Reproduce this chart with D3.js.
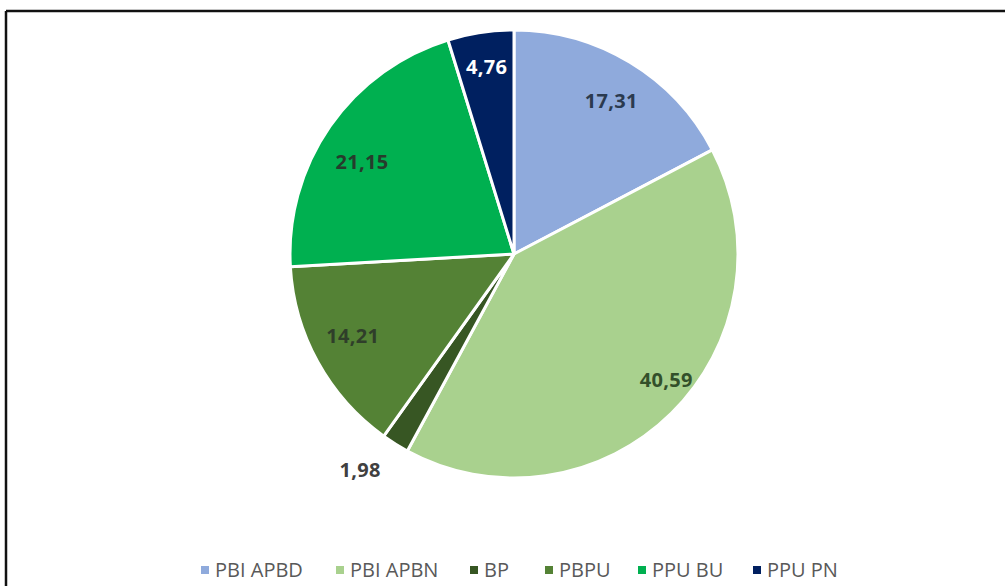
<!DOCTYPE html>
<html>
<head>
<meta charset="utf-8">
<script src="https://cdnjs.cloudflare.com/ajax/libs/d3/7.8.5/d3.min.js"></script>
<style>
  html, body { margin: 0; padding: 0; background: #fff; }
  svg { display: block; }
</style>
</head>
<body>
<div id="chart"></div>
<script>
// chart data
var categories = ['PBI APBD', 'PBI APBN', 'BP', 'PBPU', 'PPU BU', 'PPU PN'];
var values     = [17.31, 40.59, 1.98, 14.21, 21.15, 4.76];
var labels     = ['17,31', '40,59', '1,98', '14,21', '21,15', '4,76'];
var colors     = ['#8faadc', '#a9d18e', '#375623', '#548235', '#00b050', '#002060'];
var labelColors = ['#2b3a4f', '#33502a', '#404040', '#2f3e2a', '#263c2c', '#ffffff'];
// small nudges so labels sit where excel put them
var labelNudge = [[2, 4], [23, -5], [-15, -6], [0, -7], [-1, 13], [0, -5]];

var width = 1005, height = 586;
var cx = 514, cy = 254, radius = 224;

var svg = d3.select('#chart').append('svg')
  .attr('width', width)
  .attr('height', height);

// frame (only top and left edges show)
svg.append('line').attr('x1', 6).attr('y1', 11).attr('x2', width).attr('y2', 11)
  .attr('stroke', '#111').attr('stroke-width', 2.5);
svg.append('line').attr('x1', 6).attr('y1', 11).attr('x2', 6).attr('y2', height)
  .attr('stroke', '#111').attr('stroke-width', 2.5);

var data = categories.map(function(c, i){
  return { name: c, value: values[i], label: labels[i], color: colors[i],
           lcolor: labelColors[i], nudge: labelNudge[i] };
});

var pie = d3.pie().sort(null).value(function(d){ return d.value; });
var arcs = pie(data);

var arc = d3.arc().innerRadius(0).outerRadius(radius);
var labelArc = d3.arc().innerRadius(184).outerRadius(184);
var outerLabelArc = d3.arc().innerRadius(262).outerRadius(262);

var g = svg.append('g').attr('transform', 'translate(' + cx + ',' + cy + ')');

g.selectAll('path.slice')
  .data(arcs)
  .enter().append('path')
  .attr('class', 'slice')
  .attr('d', arc)
  .attr('fill', function(d){ return d.data.color; })
  .attr('stroke', '#fff')
  .attr('stroke-width', 3)
  .attr('stroke-linejoin', 'round');

g.selectAll('text.val')
  .data(arcs)
  .enter().append('text')
  .attr('class', 'val')
  .attr('transform', function(d){
    var a = d.data.value < 3 ? outerLabelArc : labelArc;
    var c = a.centroid(d);
    return 'translate(' + (c[0] + d.data.nudge[0]) + ',' + (c[1] + d.data.nudge[1]) + ')';
  })
  .attr('text-anchor', 'middle')
  .attr('dy', '0.36em')
  .attr('font-family', 'Open Sans, sans-serif')
  .attr('font-weight', 700)
  .attr('font-size', 20)
  .attr('letter-spacing', 0.3)
  .attr('fill', function(d){ return d.data.lcolor; })
  .text(function(d){ return d.data.label; });

// legend
var legendX = [205, 340, 474, 549, 642, 757];
var legend = svg.append('g').attr('class', 'legend');
var items = legend.selectAll('g')
  .data(data)
  .enter().append('g')
  .attr('transform', function(d, i){ return 'translate(' + legendX[i] + ',570)'; });

items.append('rect')
  .attr('x', -4).attr('y', -4)
  .attr('width', 8).attr('height', 8)
  .attr('fill', function(d){ return d.color; });

items.append('text')
  .attr('x', 10)
  .attr('dy', '0.36em')
  .attr('font-family', 'Open Sans, sans-serif')
  .attr('font-size', 20)
  .attr('fill', '#595959')
  .text(function(d){ return d.name; });
</script>
</body>
</html>
